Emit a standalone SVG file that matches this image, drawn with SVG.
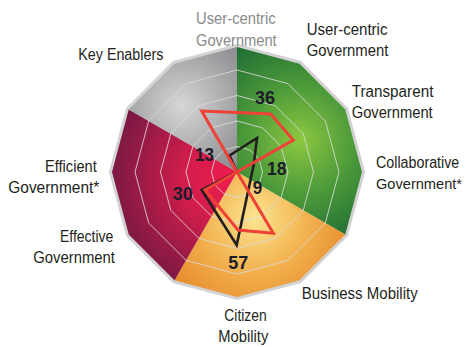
<svg xmlns="http://www.w3.org/2000/svg" width="468" height="347" viewBox="0 0 468 347">
<style>
.lbl{font-family:"Liberation Sans",Arial,sans-serif;font-size:16px;fill:#231f20;}
.lbl-grey{font-family:"Liberation Sans",Arial,sans-serif;font-size:16px;fill:#8a8a8a;}
.num{font-family:"Liberation Sans",Arial,sans-serif;font-size:19px;font-weight:bold;fill:#1c1c2b;}
.ring{fill:none;stroke:#d9d9d9;stroke-opacity:0.85;stroke-width:1;}
</style>
<defs>
<radialGradient id="gGreen" gradientUnits="userSpaceOnUse" cx="300" cy="140" r="115">
<stop offset="0" stop-color="#8dc840"/>
<stop offset="0.45" stop-color="#4f9c3a"/>
<stop offset="1" stop-color="#1c6a34"/>
</radialGradient>
<radialGradient id="gGrey" gradientUnits="userSpaceOnUse" cx="182" cy="106" r="95">
<stop offset="0" stop-color="#d6d6d8"/>
<stop offset="1" stop-color="#7c7d80"/>
</radialGradient>
<radialGradient id="gRed" gradientUnits="userSpaceOnUse" cx="228" cy="178" r="130">
<stop offset="0" stop-color="#ef1c4e"/>
<stop offset="0.35" stop-color="#d01d4b"/>
<stop offset="1" stop-color="#6a1842"/>
</radialGradient>
<radialGradient id="gOrange" gradientUnits="userSpaceOnUse" cx="255" cy="218" r="105">
<stop offset="0" stop-color="#fbe590"/>
<stop offset="0.5" stop-color="#f2b24f"/>
<stop offset="1" stop-color="#e6872a"/>
</radialGradient>
</defs>

<g id="chart-base">
<polygon points="237,47 299.5,63.75 345.25,109.5 362,172 345.25,234.5 299.5,280.25 237,297 174.5,280.25 128.75,234.5 112,172 128.75,109.5 174.5,63.75" fill="#d2d2d2" stroke="#d2d2d2" stroke-width="6" stroke-linejoin="miter"/>
<path id="sector-green" d="M237,172 L237,47 L299.5,63.75 L345.25,109.5 L362,172 L345.25,234.5 Z" fill="url(#gGreen)"/>
<path id="sector-orange" d="M237,172 L345.25,234.5 L299.5,280.25 L237,297 L174.5,280.25 Z" fill="url(#gOrange)"/>
<path id="sector-red" d="M237,172 L174.5,280.25 L128.75,234.5 L112,172 L128.75,109.5 Z" fill="url(#gRed)"/>
<path id="sector-grey" d="M237,172 L128.75,109.5 L174.5,63.75 L237,47 Z" fill="url(#gGrey)"/>
</g>

<g id="grid">
<polygon class="ring" points="237,146.5 249.75,149.92 259.08,159.25 262.5,172 259.08,184.75 249.75,194.08 237,197.5 224.25,194.08 214.92,184.75 211.5,172 214.92,159.25 224.25,149.92"/>
<polygon class="ring" points="237,121 262.5,127.83 281.17,146.5 288,172 281.17,197.5 262.5,216.17 237,223 211.5,216.17 192.83,197.5 186,172 192.83,146.5 211.5,127.83"/>
<polygon class="ring" points="237,95.5 275.25,105.75 303.25,133.75 313.5,172 303.25,210.25 275.25,238.25 237,248.5 198.75,238.25 170.75,210.25 160.5,172 170.75,133.75 198.75,105.75"/>
<polygon class="ring" points="237,70 288,83.67 325.33,121 339,172 325.33,223 288,260.33 237,274 186,260.33 148.67,223 135,172 148.67,121 186,83.67"/>
</g>

<g id="connectors">
<polygon id="series-black" points="229.5,155.5 257,138 253.7,164.7 236.7,245 201.7,190 237,172" fill="none" stroke="#231f20" stroke-width="2.6" stroke-linejoin="miter"/>
<polygon id="series-red" points="201.7,111 270.7,114 293.3,140 237,172 273.3,233.3 238,230 205,190 237,172" fill="none" stroke="#ee4137" stroke-width="3" stroke-linejoin="miter"/>
</g>

<g id="values">
<text class="num" x="255" y="103.5" textLength="20" lengthAdjust="spacingAndGlyphs">36</text>
<text class="num" x="195" y="161" textLength="19" lengthAdjust="spacingAndGlyphs">13</text>
<text class="num" x="267" y="175" textLength="19.5" lengthAdjust="spacingAndGlyphs">18</text>
<text class="num" x="252.7" y="193.5" textLength="9.5" lengthAdjust="spacingAndGlyphs">9</text>
<text class="num" x="172.7" y="200" textLength="20" lengthAdjust="spacingAndGlyphs">30</text>
<text class="num" x="228.3" y="268.5" textLength="20" lengthAdjust="spacingAndGlyphs">57</text>
</g>

<g id="label-usercentric-grey">
<text class="lbl-grey" x="196" y="24" textLength="79.7" lengthAdjust="spacingAndGlyphs">User-centric</text>
<text class="lbl-grey" x="196" y="46" textLength="80.7" lengthAdjust="spacingAndGlyphs">Government</text>
</g>
<g id="label-usercentric">
<text class="lbl" x="306.7" y="35" textLength="80.7" lengthAdjust="spacingAndGlyphs">User-centric</text>
<text class="lbl" x="306.7" y="56" textLength="81.7" lengthAdjust="spacingAndGlyphs">Government</text>
</g>
<g id="label-transparent">
<text class="lbl" x="351.7" y="96.7" textLength="81.7" lengthAdjust="spacingAndGlyphs">Transparent</text>
<text class="lbl" x="351.7" y="118" textLength="81" lengthAdjust="spacingAndGlyphs">Government</text>
</g>
<g id="label-collaborative">
<text class="lbl" x="376" y="168.3" textLength="83.3" lengthAdjust="spacingAndGlyphs">Collaborative</text>
<text class="lbl" x="376" y="189" style="font-size:15.2px" textLength="86" lengthAdjust="spacingAndGlyphs">Government*</text>
</g>
<g id="label-business">
<text class="lbl" x="301.7" y="299.3" textLength="116" lengthAdjust="spacingAndGlyphs">Business Mobility</text>
</g>
<g id="label-citizen">
<text class="lbl" x="224.3" y="320.7" textLength="42.4" lengthAdjust="spacingAndGlyphs">Citizen</text>
<text class="lbl" x="218.3" y="342" textLength="50" lengthAdjust="spacingAndGlyphs">Mobility</text>
</g>
<g id="label-effective">
<text class="lbl" x="60" y="241.7" textLength="53.3" lengthAdjust="spacingAndGlyphs">Effective</text>
<text class="lbl" x="33.3" y="263.3" textLength="81.7" lengthAdjust="spacingAndGlyphs">Government</text>
</g>
<g id="label-efficient">
<text class="lbl" x="45" y="171.7" textLength="51.7" lengthAdjust="spacingAndGlyphs">Efficient</text>
<text class="lbl" x="8.3" y="193.3" textLength="91" lengthAdjust="spacingAndGlyphs">Government*</text>
</g>
<g id="label-keyenablers">
<text class="lbl" x="78.3" y="60" textLength="85" lengthAdjust="spacingAndGlyphs">Key Enablers</text>
</g>
</svg>
